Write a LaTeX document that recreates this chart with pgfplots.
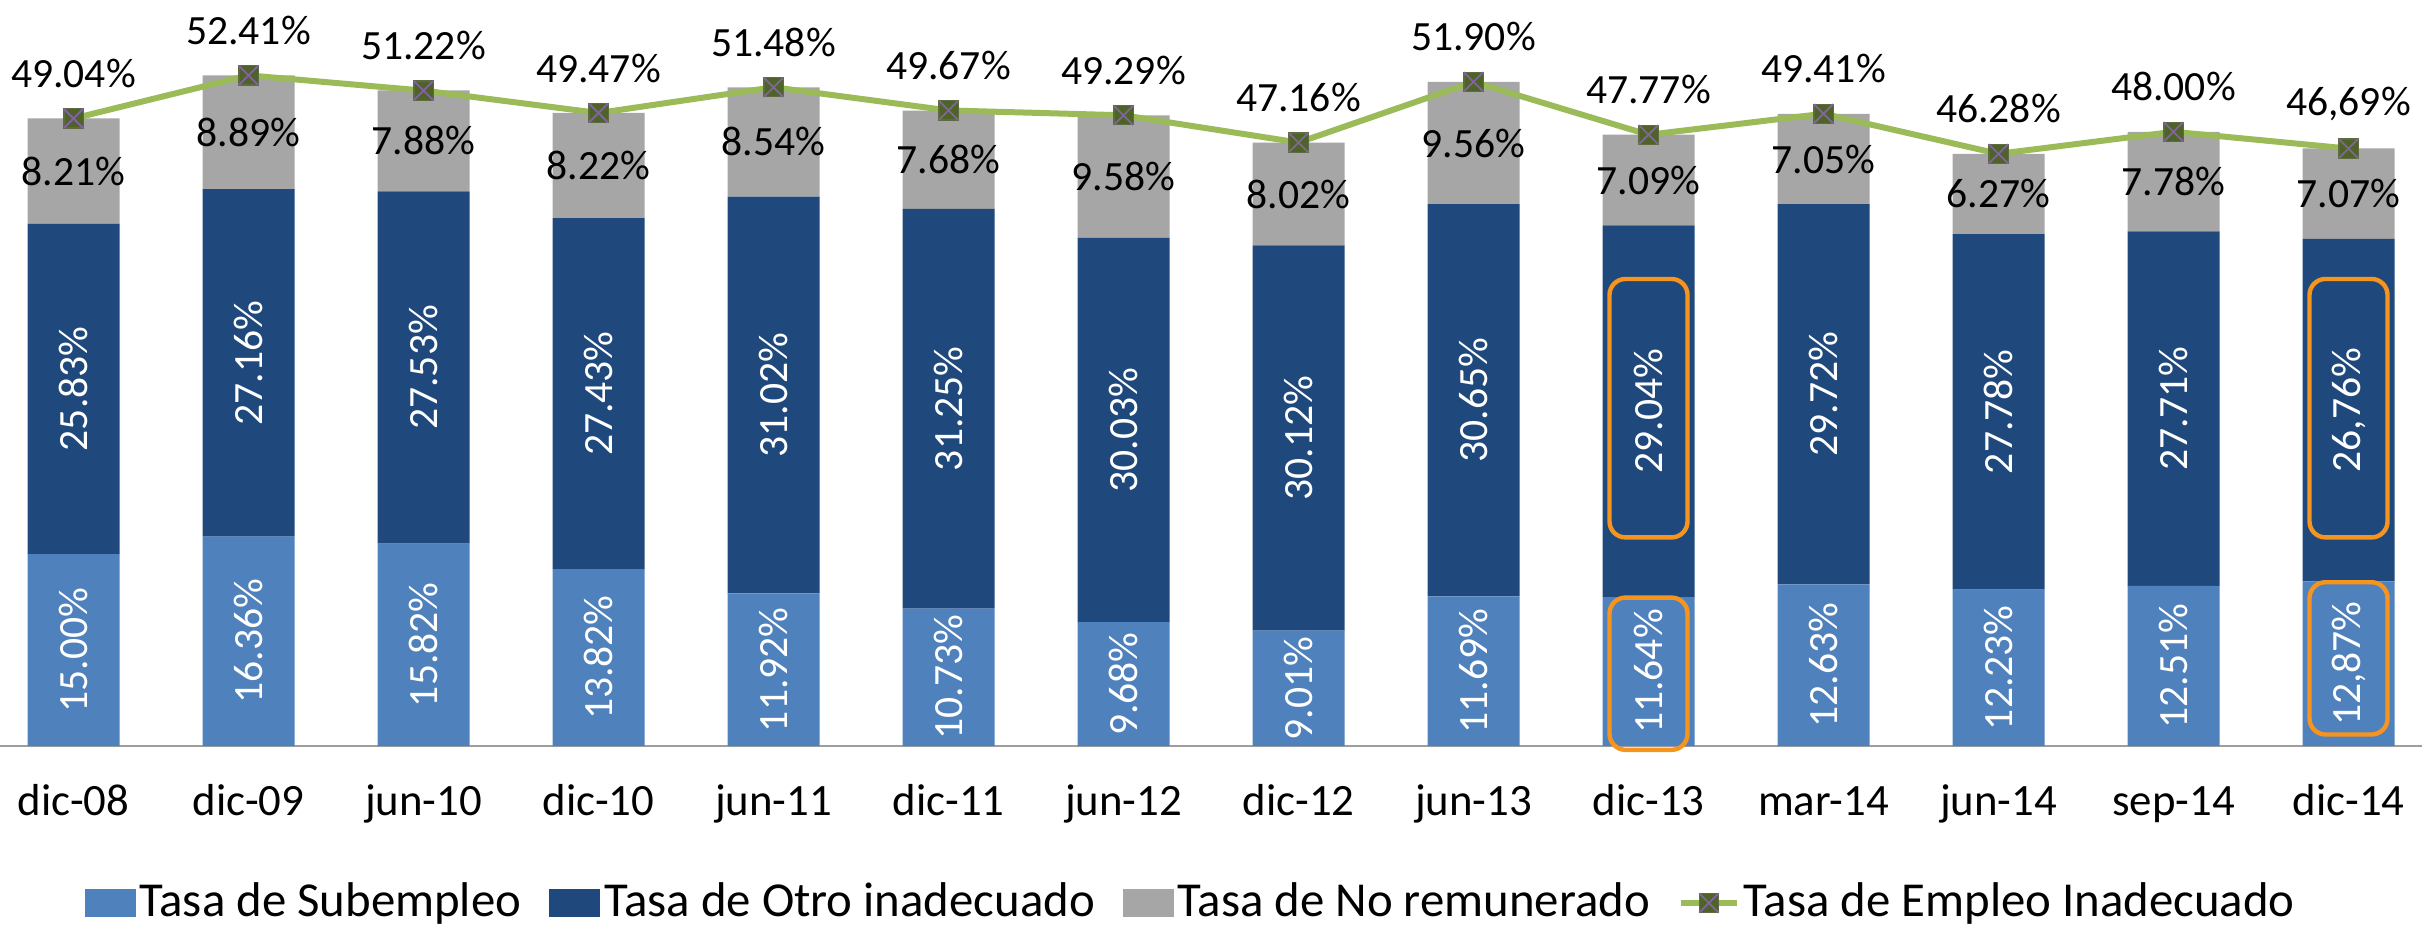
\documentclass[border=0pt]{standalone}
\usepackage{pgfplots}
\pgfplotsset{compat=1.18}
\usepackage{pgfplotstable}
\usepackage{fontspec}
\setmainfont{Carlito}
\definecolor{csub}{HTML}{4F81BD}
\definecolor{cotro}{HTML}{1F497D}
\definecolor{cnor}{HTML}{A6A6A6}
\definecolor{cline}{HTML}{9BBB59}
\definecolor{cmk}{HTML}{4F6228}
\definecolor{cmx}{HTML}{8064A2}
\definecolor{corange}{HTML}{F7941D}
\pgfdeclareplotmark{sqx}{%
  \pgfsetfillcolor{cmk}\pgfsetstrokecolor{cmk!70!gray}\pgfsetlinewidth{0.3pt}%
  \pgfpathrectangle{\pgfpoint{-\pgfplotmarksize}{-\pgfplotmarksize}}{\pgfpoint{2\pgfplotmarksize}{2\pgfplotmarksize}}%
  \pgfusepath{fill,stroke}%
  \pgfsetstrokecolor{cmx}\pgfsetlinewidth{0.45pt}%
  \pgfpathmoveto{\pgfpoint{-\pgfplotmarksize}{-\pgfplotmarksize}}\pgfpathlineto{\pgfpoint{\pgfplotmarksize}{\pgfplotmarksize}}%
  \pgfpathmoveto{\pgfpoint{-\pgfplotmarksize}{\pgfplotmarksize}}\pgfpathlineto{\pgfpoint{\pgfplotmarksize}{-\pgfplotmarksize}}%
  \pgfusepath{stroke}}
\pgfplotstableread{
x sub subl otro otrol nor norl tot totl
0 15.00 15.00 25.83 25.83 8.21 8.21 49.04 49.04
1 16.36 16.36 27.16 27.16 8.89 8.89 52.41 52.41
2 15.82 15.82 27.53 27.53 7.88 7.88 51.22 51.22
3 13.82 13.82 27.43 27.43 8.22 8.22 49.47 49.47
4 11.92 11.92 31.02 31.02 8.54 8.54 51.48 51.48
5 10.73 10.73 31.25 31.25 7.68 7.68 49.67 49.67
6 9.68 9.68 30.03 30.03 9.58 9.58 49.29 49.29
7 9.01 9.01 30.12 30.12 8.02 8.02 47.16 47.16
8 11.69 11.69 30.65 30.65 9.56 9.56 51.90 51.90
9 11.64 11.64 29.04 29.04 7.09 7.09 47.77 47.77
10 12.63 12.63 29.72 29.72 7.05 7.05 49.41 49.41
11 12.23 12.23 27.78 27.78 6.27 6.27 46.28 46.28
12 12.51 12.51 27.71 27.71 7.78 7.78 48.00 48.00
13 12.87 12,87 26.76 26,76 7.07 7.07 46.69 46,69
}\datatable
\newcommand{\lblfont}{\fontsize{10.4}{12}\selectfont}
\pgfplotsset{linelegend/.style={legend image code/.code={\draw[##1, mark repeat=2, mark phase=2] plot coordinates {(0pt,0pt)(7pt,0pt)(14pt,0pt)};}},
  arealeg/.style={legend image code/.code={\fill[##1] (0pt,-3.4pt) rectangle (12.75pt,3.4pt);}}}
\begin{document}
\begin{tikzpicture}
\pgfplotsset{base/.style={width=605.5pt,height=186.5pt,scale only axis,
  xmin=-0.42,xmax=13.42,ymin=0,ymax=58.3}}
\begin{axis}[base, name=ax, ybar stacked, bar width=23pt,
  axis x line*=bottom, axis y line=none, ytick=\empty,
  x axis line style={color=black!38, line width=0.6pt},
  xtick={0,...,13},
  xticklabels={dic-08,dic-09,jun-10,dic-10,jun-11,dic-11,jun-12,dic-12,jun-13,dic-13,mar-14,jun-14,sep-14,dic-14},
  xtick style={draw=none},
  xticklabel style={anchor=base, yshift=-17.25pt, font=\fontsize{11.2}{13}\selectfont},
  ]
\addplot[fill=csub, draw=none, point meta=explicit symbolic,
  nodes near coords={\pgfplotspointmeta\%},
  every node near coord/.append style={font=\lblfont, text=white, anchor=center, rotate=90}]
  table[x=x,y=sub,meta=subl]{\datatable};
\addplot[fill=cotro, draw=none, point meta=explicit symbolic,
  nodes near coords={\pgfplotspointmeta\%},
  every node near coord/.append style={font=\lblfont, text=white, anchor=center, rotate=90}]
  table[x=x,y=otro,meta=otrol]{\datatable};
\addplot[fill=cnor, draw=none, point meta=explicit symbolic,
  nodes near coords={\pgfplotspointmeta\%},
  every node near coord/.append style={font=\lblfont, text=black, anchor=center}]
  table[x=x,y=nor,meta=norl]{\datatable};
\end{axis}
\begin{axis}[base, hide axis, clip=false,
  legend style={at={(0.492,-0.2105)}, anchor=center, draw=none, fill=none,
    legend columns=4, font=\fontsize{12.2}{14}\selectfont,
    /tikz/every even column/.append style={column sep=6pt},
    nodes={inner sep=1pt}},
  ]
\addlegendimage{arealeg, fill=csub, draw=none}
\addlegendentry{Tasa de Subempleo}
\addlegendimage{arealeg, fill=cotro, draw=none}
\addlegendentry{Tasa de Otro inadecuado}
\addlegendimage{arealeg, fill=cnor, draw=none}
\addlegendentry{Tasa de No remunerado}
\addplot[cline, line width=1.5pt, mark=sqx, mark size=2.4pt, linelegend,
  point meta=explicit symbolic,
  nodes near coords={\pgfplotspointmeta\%},
  every node near coord/.append style={font=\lblfont, text=black, anchor=center, yshift=11.25pt}]
  table[x=x,y=tot,meta=totl]{\datatable};
\addlegendentry{Tasa de Empleo Inadecuado}
\draw[corange, line width=1.1pt, rounded corners=4pt] (8.777,16.3) rectangle (9.223,36.5);
\draw[corange, line width=1.1pt, rounded corners=4pt] (8.777,-0.3) rectangle (9.223,11.6);
\draw[corange, line width=1.1pt, rounded corners=4pt] (12.777,16.3) rectangle (13.223,36.5);
\draw[corange, line width=1.1pt, rounded corners=4pt] (12.777,0.9) rectangle (13.223,12.8);
\end{axis}
\pgfresetboundingbox
\path[use as bounding box] ([yshift=-44.5pt]ax.south west) rectangle (ax.north east);
\end{tikzpicture}
\end{document}
